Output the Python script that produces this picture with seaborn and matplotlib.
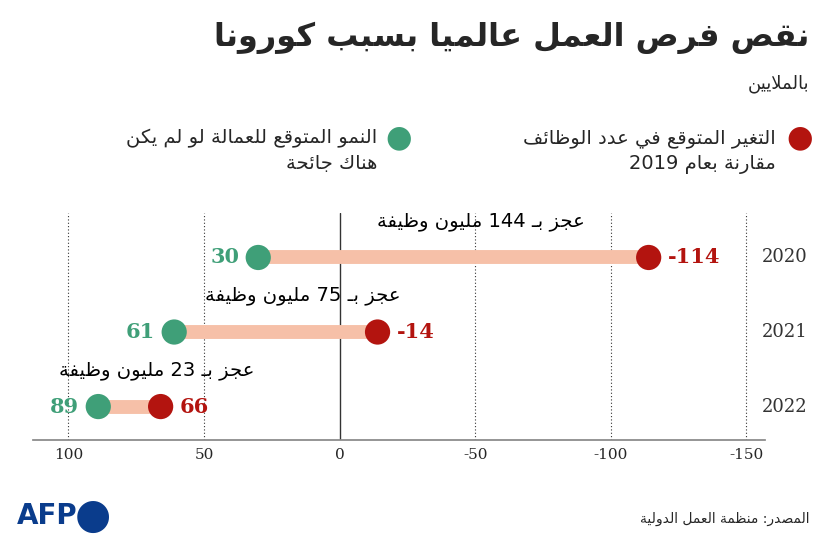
import matplotlib
matplotlib.use("Agg")
import matplotlib.pyplot as plt
import seaborn as sns
import pandas as pd
import re

# ── Minimal Arabic shaping (presentation forms) + visual reordering ──
_LETTERS = [("ء", 1), ("آ", 2), ("أ", 2), ("ؤ", 2), ("إ", 2), ("ئ", 4), ("ا", 2), ("ب", 4),
            ("ة", 2), ("ت", 4), ("ث", 4), ("ج", 4), ("ح", 4), ("خ", 4), ("د", 2), ("ذ", 2),
            ("ر", 2), ("ز", 2), ("س", 4), ("ش", 4), ("ص", 4), ("ض", 4), ("ط", 4), ("ظ", 4),
            ("ع", 4), ("غ", 4), ("ف", 4), ("ق", 4), ("ك", 4), ("ل", 4), ("م", 4), ("ن", 4),
            ("ه", 4), ("و", 2), ("ى", 2), ("ي", 4)]
FORMS = {}
_cp = 0xFE80
for ch, n in _LETTERS:
    FORMS[ch] = [chr(_cp + i) for i in range(n)]
    _cp += n
LAMALEF = {"ا": ("\uFEFB", "\uFEFC"), "أ": ("\uFEF7", "\uFEF8"),
           "إ": ("\uFEF9", "\uFEFA"), "آ": ("\uFEF5", "\uFEF6")}
TATWEEL = "ـ"


def joins_fwd(c):
    return c == TATWEEL or (c in FORMS and len(FORMS[c]) == 4)


def is_ar(c):
    return c == TATWEEL or c in FORMS


def shape(s):
    chars = list(s)
    out = []
    i = 0
    while i < len(chars):
        c = chars[i]
        prev = chars[i - 1] if i > 0 else ""
        jp = joins_fwd(prev) if prev else False
        if c == "ل" and i + 1 < len(chars) and chars[i + 1] in LAMALEF:
            out.append(LAMALEF[chars[i + 1]][1 if jp else 0])
            i += 2
            continue
        if c not in FORMS:
            out.append(c)
            i += 1
            continue
        f = FORMS[c]
        nxt = chars[i + 1] if i + 1 < len(chars) else ""
        jn = len(f) == 4 and is_ar(nxt)
        if len(f) == 1:
            out.append(f[0])
        elif jp and jn:
            out.append(f[3])
        elif jp:
            out.append(f[1])
        elif jn:
            out.append(f[2])
        else:
            out.append(f[0])
        i += 1
    vis = "".join(out)[::-1]
    return re.sub(r"[0-9]+", lambda m: m.group(0)[::-1], vis)


def ar(s):
    return "\n".join(shape(line) for line in s.split("\n"))


# ── Data ──────────────────────────────────────────────────────
YEARS = ["2020", "2021", "2022"]
GROWTH = [30, 61, 89]
CHANGE = [-114, -14, 66]
CHANGE_LABELS = ["-114", "-14", "66"]
GAP_TEXT = ["عجز بـ 144 مليون وظيفة", "عجز بـ 75 مليون وظيفة", "عجز بـ 23 مليون وظيفة"]
XTICKS = [100, 50, 0, -50, -100, -150]

GREEN = "#3f9f78"
RED = "#b3140f"
BAR = "#f6c0a8"
GREY = "#333333"

sns.set_theme(style="white")
plt.rcParams["font.family"] = "DejaVu Sans"

fig = plt.figure(figsize=(8.3, 5.4), dpi=100)
ax = fig.add_axes([0.04, 0.185, 0.882, 0.421])

df = pd.DataFrame({"year": YEARS, "gx": GROWTH, "change": CHANGE, "y": [0, 1, 2]})

for _, r in df.iterrows():
    ax.hlines(r["y"], r["gx"], r["change"], color=BAR, lw=10, zorder=1)
sns.scatterplot(data=df, x="gx", y="y", color=GREEN, s=330, edgecolor="none", zorder=3, ax=ax)
sns.scatterplot(data=df, x="change", y="y", color=RED, s=330, edgecolor="none", zorder=3, ax=ax)

for i, r in df.iterrows():
    ax.text(r["gx"] + 7, r["y"], str(GROWTH[i]), color=GREEN, fontsize=15,
            fontweight="bold", ha="right", va="center", family="DejaVu Serif")
    ax.text(r["change"] - 7, r["y"], CHANGE_LABELS[i], color=RED, fontsize=15,
            fontweight="bold", ha="left", va="center", family="DejaVu Serif")
    ax.text(0.995, r["y"], r["year"], transform=ax.get_yaxis_transform(),
            fontsize=13, va="center", ha="left", color=GREY, family="DejaVu Serif")
    mid = (r["gx"] + r["change"]) / 2 - 10
    ax.text(mid, r["y"] - 0.36, ar(GAP_TEXT[i]), fontsize=14, ha="center",
            va="bottom", color="black")

for t in XTICKS:
    if t == 0:
        ax.axvline(0, color=GREY, lw=1, zorder=0)
    else:
        ax.axvline(t, color=GREY, lw=0.8, ls=(0, (1, 2)), zorder=0)

ax.set_xlim(113, -157)
ax.set_ylim(2.45, -0.6)
ax.set_xticks(XTICKS)
ax.set_xticklabels([str(t) for t in XTICKS], fontsize=11, family="DejaVu Serif")
ax.set_yticks([])
ax.set_xlabel("")
ax.set_ylabel("")
for s in ["top", "left", "right"]:
    ax.spines[s].set_visible(False)
ax.spines["bottom"].set_color("#888888")
ax.tick_params(axis="x", length=0, pad=6)

# ── Titles, legend, footer ────────────────────────────────────
fig.text(0.975, 0.93, ar("نقص فرص العمل عالميا بسبب كورونا"), fontsize=23,
         fontweight="bold", ha="right", va="center")
fig.text(0.975, 0.845, ar("بالملايين"), fontsize=13, ha="right", va="center")

fig.text(0.963, 0.745, "●", color=RED, fontsize=22, ha="center", va="center")
fig.text(0.935, 0.72, ar("التغير المتوقع في عدد الوظائف\nمقارنة بعام 2019"), fontsize=14,
         ha="right", va="center", linespacing=1.4)
fig.text(0.48, 0.745, "●", color=GREEN, fontsize=22, ha="center", va="center")
fig.text(0.455, 0.72, ar("النمو المتوقع للعمالة لو لم يكن\nهناك جائحة"), fontsize=14,
         ha="right", va="center", linespacing=1.4)

fig.text(0.975, 0.04, ar("المصدر: منظمة العمل الدولية"), fontsize=10, ha="right", va="center")
fig.text(0.02, 0.045, "AFP", fontsize=20, fontweight="bold", color="#0a3c8c",
         ha="left", va="center")
fig.text(0.112, 0.045, "●", fontsize=30, color="#0a3c8c", ha="center", va="center")

fig.savefig("out.png", dpi=100)
